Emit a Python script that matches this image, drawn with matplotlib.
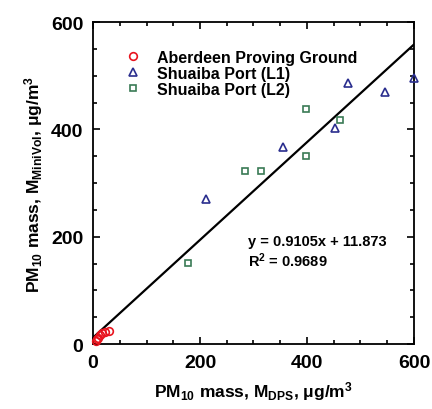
import matplotlib
matplotlib.use("Agg")
import matplotlib.pyplot as plt
import numpy as np
from matplotlib.ticker import MultipleLocator

plt.rcParams["font.family"] = ["Liberation Sans", "DejaVu Sans"]
plt.rcParams["font.weight"] = "bold"
plt.rcParams["axes.labelweight"] = "bold"
plt.rcParams["mathtext.fontset"] = "custom"
plt.rcParams["mathtext.rm"] = "Liberation Sans:bold"
plt.rcParams["mathtext.it"] = "Liberation Sans:bold"
plt.rcParams["mathtext.bf"] = "Liberation Sans:bold"
plt.rcParams["mathtext.default"] = "rm"

# Aberdeen Proving Ground
apg_x = [5, 8, 10, 14, 17, 22, 30]
apg_y = [5, 10, 12, 17, 20, 22, 25]
# Shuaiba Port (L1)
l1_x = [211, 356, 453, 476, 545, 600]
l1_y = [270, 368, 402, 486, 470, 495]
# Shuaiba Port (L2)
l2_x = [178, 284, 314, 399, 399, 461]
l2_y = [151, 322, 322, 438, 351, 417]

slope = 0.9105
intercept = 11.873
r2 = 0.9689

fig = plt.figure(figsize=(4.32, 4.10), dpi=100)
ax = fig.add_axes([0.2153, 0.1585, 0.7430, 0.7854])

fit_x = np.array([0, 600])
ax.plot(fit_x, slope * fit_x + intercept, color="black", lw=1.6, zorder=2)

ax.plot(apg_x, apg_y, "o", ms=5.5, mfc="none", mec="#e8141e", mew=1.2,
        label="Aberdeen Proving Ground", zorder=3, clip_on=False)
ax.plot(l1_x, l1_y, "^", ms=5.5, mfc="none", mec="#2a2e8e", mew=1.2,
        label="Shuaiba Port (L1)", zorder=3, clip_on=False)
ax.plot(l2_x, l2_y, "s", ms=5, mfc="none", mec="#3a7a55", mew=1.2,
        label="Shuaiba Port (L2)", zorder=3, clip_on=False)

ax.set_xlim(0, 600)
ax.set_ylim(0, 600)
ax.xaxis.set_major_locator(MultipleLocator(200))
ax.yaxis.set_major_locator(MultipleLocator(200))
ax.xaxis.set_minor_locator(MultipleLocator(50))
ax.yaxis.set_minor_locator(MultipleLocator(50))
ax.tick_params(which="both", direction="in", top=True, right=True, width=1.2)
ax.tick_params(which="major", length=5, labelsize=14, pad=7)
ax.tick_params(which="minor", length=3)
for s in ax.spines.values():
    s.set_linewidth(1.3)

ax.set_xlabel(r"PM$_{10}$ mass, M$_{\mathrm{DPS}}$, $\mu$g/m$^3$", fontsize=12.5, labelpad=6)
ax.set_ylabel(r"PM$_{10}$ mass, M$_{\mathrm{MiniVol}}$, $\mu$g/m$^3$", fontsize=12.5, labelpad=4)

ax.legend(loc="upper left", bbox_to_anchor=(0.066, 0.933), frameon=False,
          fontsize=11.5, handletextpad=0.8, labelspacing=0.05, handlelength=1.5,
          borderaxespad=0)

ax.text(290, 192, f"y = {slope}x + {intercept}", fontsize=10.5, ha="left", va="center")
ax.text(290, 158, rf"R$^2$ = {r2}", fontsize=10.5, ha="left", va="center")
fig.savefig("out.png", dpi=100, facecolor="white")
